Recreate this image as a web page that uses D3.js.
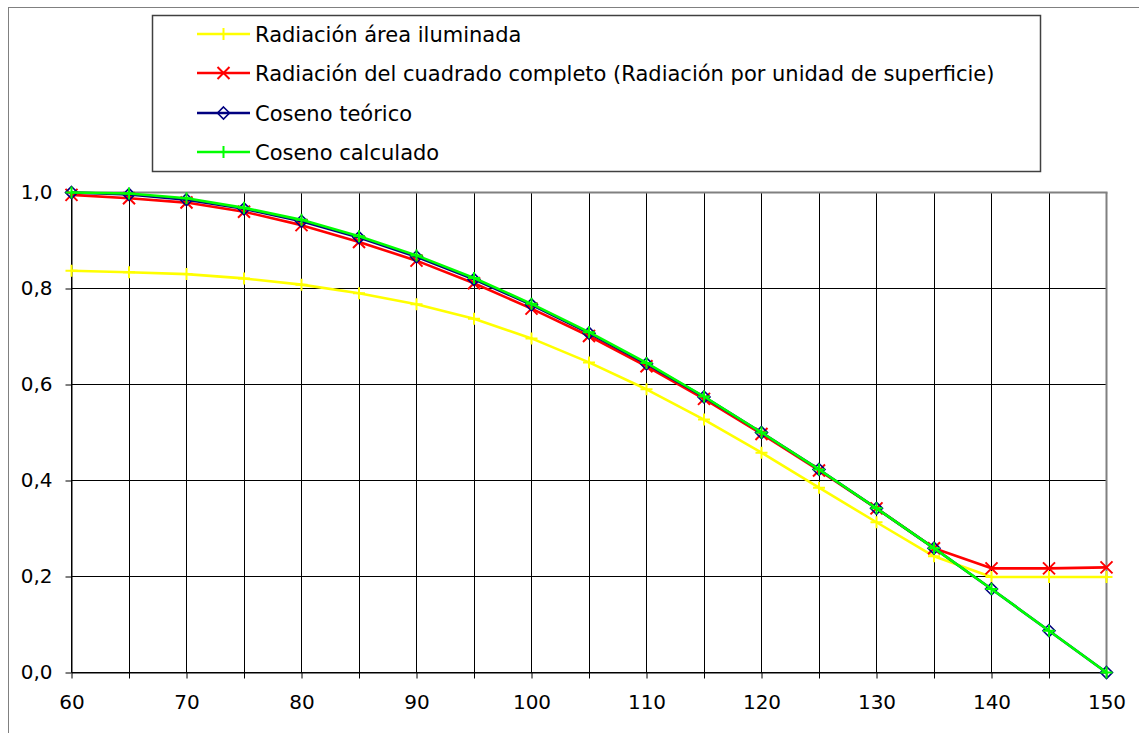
<!DOCTYPE html>
<html><head><meta charset="utf-8">
<script src="https://cdn.jsdelivr.net/npm/d3@7/dist/d3.min.js"></script>
<style>body{margin:0;background:#fff;overflow:hidden}svg{display:block;font-family:"DejaVu Sans",Verdana,sans-serif}</style>
</head><body><svg id="c" width="1139" height="733"></svg>
<script>
const angles = [60,65,70,75,80,85,90,95,100,105,110,115,120,125,130,135,140,145,150];
const radArea = [0.837,0.834,0.830,0.821,0.808,0.790,0.767,0.737,0.696,0.646,0.590,0.527,0.458,0.385,0.313,0.242,0.199,0.199,0.199];
const radCuadrado = [0.995,0.988,0.979,0.960,0.932,0.897,0.858,0.811,0.758,0.701,0.638,0.570,0.497,0.421,0.342,0.259,0.217,0.217,0.219];
const cosTeorico = [1.000,0.996,0.985,0.966,0.940,0.906,0.866,0.819,0.766,0.707,0.643,0.574,0.500,0.423,0.342,0.259,0.174,0.087,0.000];
const cosCalculado = [1.000,0.998,0.988,0.968,0.943,0.909,0.869,0.822,0.768,0.709,0.645,0.575,0.500,0.423,0.342,0.259,0.174,0.087,0.000];
const xTicks = [60,70,80,90,100,110,120,130,140,150];
const xGrid = angles;
const yTicks = [0,0.2,0.4,0.6,0.8,1.0];
const seriesNames = ["Radiación área iluminada","Radiación del cuadrado completo (Radiación por unidad de superficie)","Coseno teórico","Coseno calculado"];
const seriesColors = ["#FFFF00","#FF0000","#000080","#00FF00"];
const seriesMarkers = ["plus","x","diamond","plus"];
const seriesData = [radArea, radCuadrado, cosTeorico, cosCalculado];

const svg = d3.select("#c");
const L = 71.5, R = 1106.5, T = 192.5, B = 672.5;
const x = d3.scaleLinear().domain([60,150]).range([L,R]);
const y = d3.scaleLinear().domain([0,1]).range([B,T]);

// outer frame
svg.append("rect").attr("x",8.5).attr("y",7.5).attr("width",1140).attr("height",740)
  .attr("fill","#fff").attr("stroke","#808080").attr("stroke-width",1);

// grid
const g = svg.append("g");
g.selectAll(".vg").data(xGrid).join("line")
  .attr("x1",d=>Math.round(x(d)-0.5)+0.5).attr("x2",d=>Math.round(x(d)-0.5)+0.5)
  .attr("y1",T).attr("y2",B).attr("stroke","#000").attr("stroke-width",1);
g.selectAll(".hg").data(yTicks).join("line")
  .attr("x1",L).attr("x2",R)
  .attr("y1",d=>Math.round(y(d)-0.5)+0.5).attr("y2",d=>Math.round(y(d)-0.5)+0.5)
  .attr("stroke","#000").attr("stroke-width",1);
// plot border top/right gray
svg.append("line").attr("x1",L).attr("x2",R+1).attr("y1",T).attr("y2",T).attr("stroke","#808080").attr("stroke-width",2);
svg.append("line").attr("x1",R).attr("x2",R).attr("y1",T).attr("y2",B).attr("stroke","#808080").attr("stroke-width",2);

// axes
const xAxis = d3.axisBottom(x).tickValues(xGrid).tickSize(6).tickSizeOuter(0).tickFormat(d=>xTicks.includes(d)?d:"");
const ax = svg.append("g").attr("transform",`translate(0,${B})`).call(xAxis);
ax.select(".domain").attr("stroke","#000");
ax.selectAll(".tick line").attr("stroke","#000");
ax.selectAll(".tick text").attr("font-size",20).attr("fill","#000").attr("y",0).attr("dy","1.8em").attr("font-family","DejaVu Sans");
const yAxis = d3.axisLeft(y).tickValues(yTicks).tickSize(6).tickSizeOuter(0).tickFormat(d=>d3.format(".1f")(d).replace(".",","));
const ay = svg.append("g").attr("transform",`translate(${L},0)`).call(yAxis);
ay.select(".domain").attr("stroke","#000");
ay.selectAll(".tick line").attr("stroke","#000");
ay.selectAll(".tick text").attr("font-size",20).attr("fill","#000").attr("x",-19).attr("font-family","DejaVu Sans");

function marker(sel, type, color, s){
  if(type==="plus"){
    sel.append("path").attr("d",`M${-s},0H${s}M0,${-s}V${s}`).attr("stroke",color).attr("stroke-width",2).attr("fill","none");
  } else if(type==="x"){
    sel.append("path").attr("d",`M${-s},${-s}L${s},${s}M${-s},${s}L${s},${-s}`).attr("stroke",color).attr("stroke-width",2).attr("fill","none");
  } else {
    sel.append("path").attr("d",`M0,${-s}L${s},0L0,${s}L${-s},0Z`).attr("stroke",color).attr("stroke-width",1.6).attr("fill","none");
  }
}
const msize = [6,6,6,6];
const line = d3.line().x((d,i)=>x(angles[i])).y(d=>y(d));
seriesData.forEach((data,k)=>{
  svg.append("path").datum(data).attr("d",line).attr("fill","none")
    .attr("stroke",seriesColors[k]).attr("stroke-width",2.6).attr("stroke-linejoin","round");
  const mg = svg.append("g");
  data.forEach((v,i)=>{
    const m = mg.append("g").attr("transform",`translate(${x(angles[i])},${y(v)})`);
    marker(m, seriesMarkers[k], seriesColors[k], msize[k]);
  });
});

// legend
const lg = svg.append("g");
lg.append("rect").attr("x",152.5).attr("y",15.5).attr("width",888).attr("height",156)
  .attr("fill","#fff").attr("stroke","#404040").attr("stroke-width",1.5);
const rowY = [34,73,113,152];
seriesNames.forEach((n,k)=>{
  lg.append("line").attr("x1",197).attr("x2",250).attr("y1",rowY[k]).attr("y2",rowY[k])
    .attr("stroke",seriesColors[k]).attr("stroke-width",2.6);
  const m = lg.append("g").attr("transform",`translate(223.5,${rowY[k]})`);
  marker(m, seriesMarkers[k], seriesColors[k], msize[k]);
  lg.append("text").attr("x",255).attr("y",rowY[k]).attr("dy","0.36em")
    .attr("font-size",21).attr("fill","#000").text(n);
});
</script></body></html>
